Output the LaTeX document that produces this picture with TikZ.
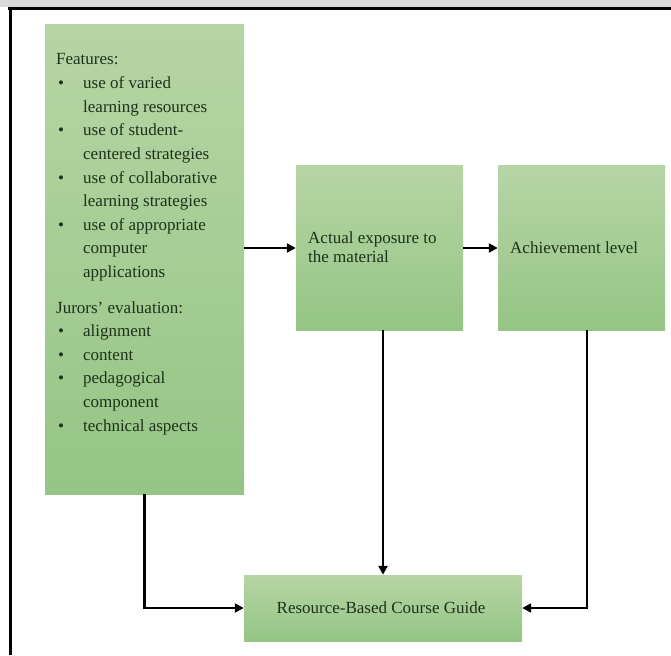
\documentclass[tikz,border=0pt]{standalone}
\usepackage{fontspec}
\setmainfont{Liberation Serif}
\usetikzlibrary{arrows.meta}
\definecolor{boxtop}{HTML}{B6D5A5}
\definecolor{boxbot}{HTML}{95C584}
\definecolor{txt}{HTML}{1C321A}
\definecolor{band}{HTML}{D9D9D9}
\newcommand{\fs}{\fontsize{17}{20}\selectfont}
\tikzset{
  box/.style={draw=none, inner sep=0pt, top color=boxtop, bottom color=boxbot, shading angle=0},
  lbl/.style={anchor=base west, inner sep=0pt, font=\fs, text=txt},
  bul/.style={anchor=base, inner sep=0pt, font=\fs, text=txt},
  arr/.style={line width=2.6pt, line join=miter, -{Triangle[length=9pt,width=9pt]}},
  frame/.style={line width=3pt}
}
\begin{document}
\begin{tikzpicture}[x=1pt,y=-1pt]
\useasboundingbox (0,0) rectangle (671,655);
\fill[band] (0,0) rectangle (671,7.2);
\draw[frame] (8,8.6) -- (671,8.6);
\draw[line width=2.6pt] (10.6,7.2) -- (10.6,655);
% boxes
\node[box, minimum width=199pt, minimum height=469pt] (L) at (144.5,259.5) {};
\node[box, minimum width=167pt, minimum height=164pt] (E) at (379.5,248) {};
\node[box, minimum width=167pt, minimum height=164pt] (A) at (581.5,248) {};
\node[box, minimum width=278pt, minimum height=66pt] (C) at (383,608) {};
% left box text
\node[lbl] (t1) at (56,65) {Features:};
\node[bul] (b1) at (61,88.6) {\textbullet};
\node[lbl] (t2) at (83,88.6) {use of varied};
\node[lbl] (t3) at (83,112.2) {learning resources};
\node[bul] (b2) at (61,135.8) {\textbullet};
\node[lbl] (t4) at (83,135.8) {use of student-};
\node[lbl] (t5) at (83,159.4) {centered strategies};
\node[bul] (b3) at (61,183) {\textbullet};
\node[lbl] (t6) at (83,183) {use of collaborative};
\node[lbl] (t7) at (83,206.6) {learning strategies};
\node[bul] (b4) at (61,230.2) {\textbullet};
\node[lbl] (t8) at (83,230.2) {use of appropriate};
\node[lbl] (t9) at (83,253.8) {computer};
\node[lbl] (t10) at (83,277.4) {applications};
\node[lbl] (t11) at (56,313) {Jurors’ evaluation:};
\node[bul] (b5) at (61,336.6) {\textbullet};
\node[lbl] (t12) at (83,336.6) {alignment};
\node[bul] (b6) at (61,360.2) {\textbullet};
\node[lbl] (t13) at (83,360.2) {content};
\node[bul] (b7) at (61,383.8) {\textbullet};
\node[lbl] (t14) at (83,383.8) {pedagogical};
\node[lbl] (t15) at (83,407.4) {component};
\node[bul] (b8) at (61,431) {\textbullet};
\node[lbl] (t16) at (83,431) {technical aspects};
% other texts
\node[lbl] (e1) at (308,243) {Actual exposure to};
\node[lbl] (e2) at (308,262) {the material};
\node[lbl] (a1) at (510,253) {Achievement level};
\node[bul] (c1) at (381,613) {Resource-Based Course Guide};
% connectors
\draw[arr] (E.west -| L.east) -- (E.west);
\draw[arr] (E.east) -- (A.west);
\draw[arr] (C.north |- E.south) -- (C.north);
\draw[arr] (L.south) -- (L.south |- C.west) -- (C.west);
\draw[arr] ([xshift=5.5pt]A.south) -- ([xshift=5.5pt]A.south |- C.east) -- (C.east);
\end{tikzpicture}
\end{document}
